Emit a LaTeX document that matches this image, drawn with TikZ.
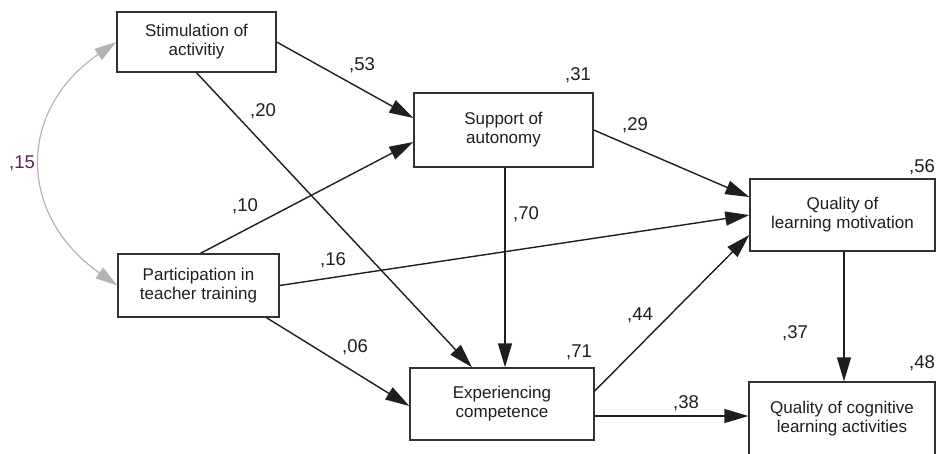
\documentclass[tikz,border=0pt]{standalone}
\usepackage{fontspec}
\setmainfont{Liberation Sans}
\usetikzlibrary{arrows.meta}
\definecolor{ink}{RGB}{30,30,30}
\definecolor{boxline}{RGB}{50,50,50}
\definecolor{covgray}{RGB}{180,180,180}
\definecolor{covtext}{RGB}{96,32,96}
\begin{document}
\begin{tikzpicture}[x=1pt,y=-1pt,
  font=\fontsize{17}{19}\selectfont,
  var/.style={draw=boxline, line width=1.4pt, fill=white, inner sep=0pt, align=center, text=ink},
  arr/.style={draw=ink, line width=1.4pt, -{Triangle[length=24pt,width=14pt]}},
  cov/.style={draw=covgray, line width=1.2pt, {Triangle[length=22pt,width=13pt]}-{Triangle[length=22pt,width=13pt]}},
  lab/.style={inner sep=0pt, text=ink, font=\fontsize{18.5}{20}\selectfont}]
\useasboundingbox (0,0) rectangle (937,453);
% variables
\node[var, minimum width=159pt, minimum height=60pt] (stim) at (196.5,42) {Stimulation of\\activitiy};
\node[var, minimum width=161pt, minimum height=63pt] (part) at (198.5,285.5) {Participation in\\teacher training};
\node[var, minimum width=179pt, minimum height=74pt] (supp) at (503.5,130) {Support of\\autonomy};
\node[var, minimum width=184pt, minimum height=72pt] (exp) at (502,404) {Experiencing\\competence};
\node[var, minimum width=185pt, minimum height=72pt] (qlm) at (842.5,215) {Quality of\\learning motivation};
\node[var, minimum width=186pt, minimum height=74pt] (qcla) at (842,419) {Quality of cognitive\\learning activities};
% covariance
\draw[cov] (stim.west) .. controls (17,110) and (17,215) .. (part.west);
\node[lab, text=covtext] (c15) at (22,163) {,15};
% paths
\draw[arr] (stim.east) -- ([yshift=12pt]supp.west);
\draw[arr] (stim.south) -- ([xshift=-30pt]exp.north);
\draw[arr] ([xshift=2pt]part.north) -- ([yshift=-12pt]supp.west);
\draw[arr] (part.east) -- (qlm.west);
\draw[arr] ([xshift=68pt]part.south) -- ([yshift=-2pt]exp.west);
\draw[arr] ([xshift=1.5pt]supp.south) coordinate (s70) -- (s70 |- exp.north);
\draw[arr] (supp.east) -- ([yshift=18pt]qlm.west);
\draw[arr] ([yshift=13pt]exp.east) -- ([yshift=-20pt]qlm.west);
\draw[arr] ([yshift=-12pt]exp.east) coordinate (e38) -- (e38 -| qcla.west);
\draw[arr] ([xshift=1.5pt]qlm.south) coordinate (q37) -- (q37 |- qcla.north);
% coefficient labels
\node[lab] (l53) at (362,65) {,53};
\node[lab] (l20) at (263,111) {,20};
\node[lab] (l31) at (578,75) {,31};
\node[lab] (l29) at (635,125) {,29};
\node[lab] (l56) at (922,167) {,56};
\node[lab] (l10) at (245,206) {,10};
\node[lab] (l16) at (333,260) {,16};
\node[lab] (l06) at (355,347) {,06};
\node[lab] (l70) at (526,214) {,70};
\node[lab] (l71) at (579,352) {,71};
\node[lab] (l44) at (640,315) {,44};
\node[lab] (l38) at (686,403) {,38};
\node[lab] (l37) at (795,333) {,37};
\node[lab] (l48) at (922,363) {,48};
\end{tikzpicture}
\end{document}
